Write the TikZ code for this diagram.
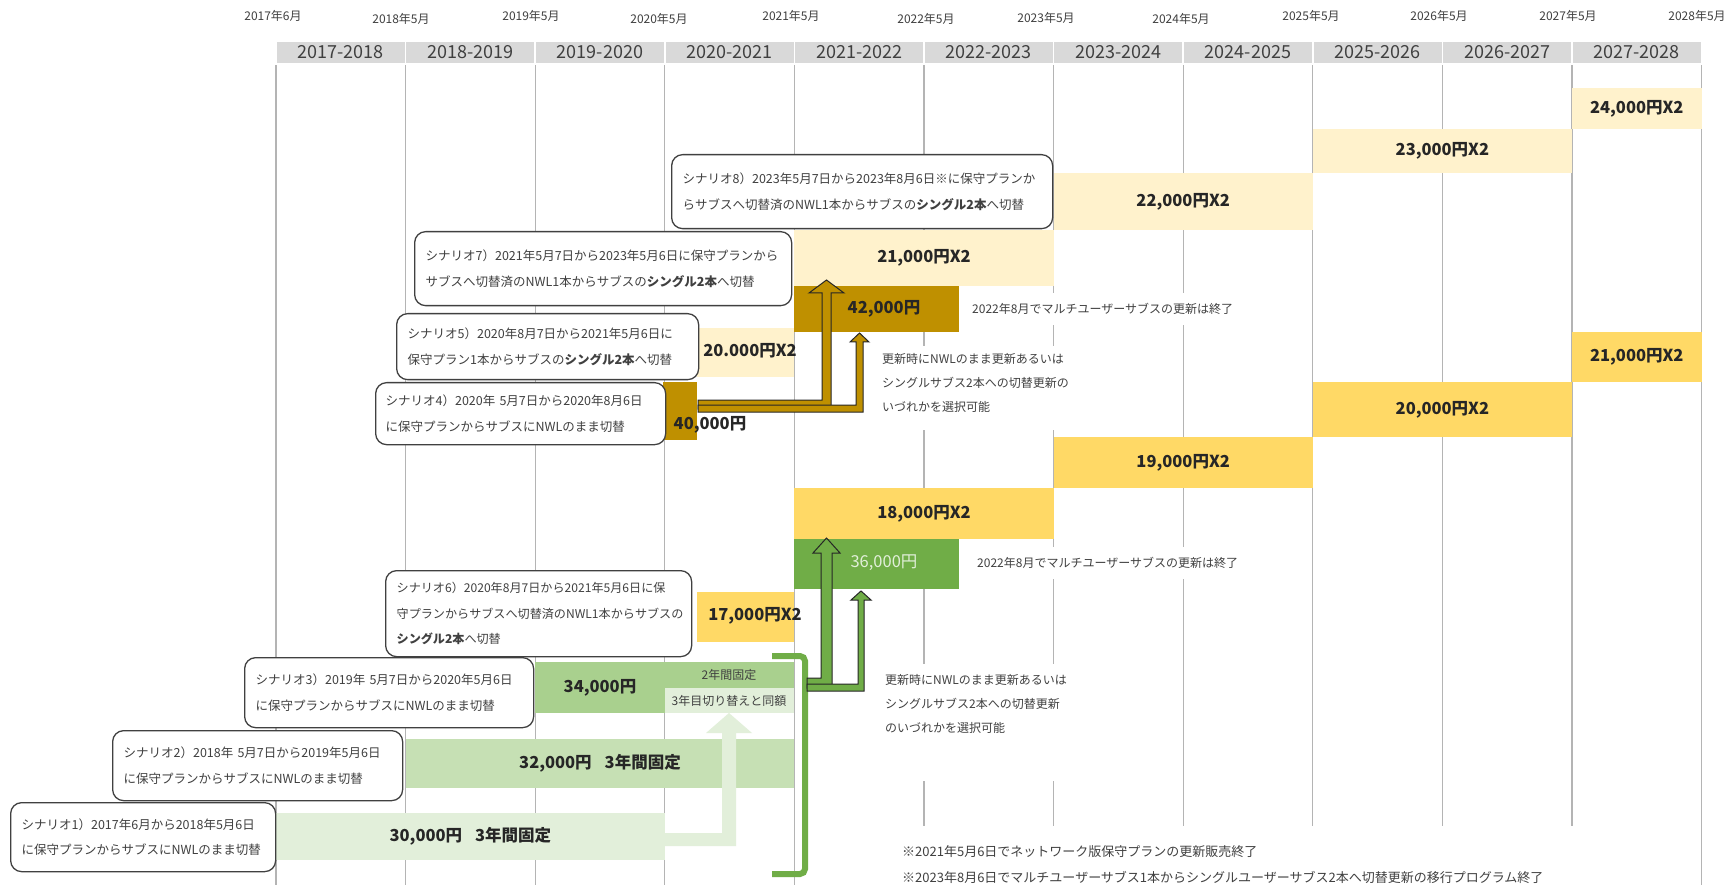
\documentclass[tikz,border=0pt]{standalone}
\usepackage{fontspec}
\setmainfont{Noto Sans CJK JP}
\definecolor{lyel}{HTML}{FFF2CC}
\definecolor{yel}{HTML}{FFD966}
\definecolor{gold}{HTML}{BF9000}
\definecolor{grn}{HTML}{70AD47}
\definecolor{grnm}{HTML}{A9D08E}
\definecolor{grnl}{HTML}{C6E0B4}
\definecolor{grnp}{HTML}{E2EFDA}
\definecolor{hdr}{HTML}{D9D9D9}
\definecolor{txt}{HTML}{404040}
\definecolor{gridc}{HTML}{B4B4B4}
\definecolor{dark}{HTML}{262626}
\begin{document}
\begin{tikzpicture}[x=1pt,y=-1pt,
  gridline/.style={draw=gridc,line width=1.3pt},
  hcell/.style={anchor=north west,fill=hdr,draw=white,line width=1.5pt,minimum width=129.6pt,minimum height=23pt,inner sep=0pt,outer sep=0pt,text=txt,font=\fontsize{18}{20}\selectfont},
  ylab/.style={inner sep=0pt,text=txt,font=\fontsize{12}{14}\selectfont},
  bar/.style={anchor=north west,inner sep=0pt,outer sep=0pt,draw=none,text=dark,font=\fontsize{16.5}{18}\selectfont\bfseries},
  lab/.style={inner sep=0pt,text=dark,font=\fontsize{16.5}{18}\selectfont\bfseries},
  small/.style={inner sep=0pt,text=txt,font=\fontsize{12}{14}\selectfont},
  note/.style={anchor=west,fill=white,inner xsep=3pt,inner ysep=10pt,align=left,text=txt,font=\fontsize{12}{24}\selectfont},
  sbox/.style={anchor=north west,draw=txt,line width=1.3pt,rounded corners=11pt,fill=white,inner xsep=11pt,inner ysep=0pt,align=left,text=txt,font=\fontsize{12.5}{25.5}\selectfont},
  goldarrow/.style={fill=gold,draw=dark,line width=1pt,line join=miter},
  grnarrow/.style={fill=grn,draw=dark,line width=1pt,line join=miter},
  palearrow/.style={fill=grnp,draw=none}
]
\useasboundingbox (0,0) rectangle (1725,885);
\fill[white] (0,0) rectangle (1725,885);
% grid lines
\foreach \i in {0,...,11} \draw[gridline] ({276+129.6*\i},64) -- ({276+129.6*\i},885);
% header
\foreach \i/\lab in {0/2017-2018,1/2018-2019,2/2019-2020,3/2020-2021,4/2021-2022,5/2022-2023,6/2023-2024,7/2024-2025,8/2025-2026,9/2026-2027,10/2027-2028}
  \node[hcell] (h\i) at ({276+129.6*\i},41) {\lab};
% year labels
\node[ylab] (y0) at (273,16) {2017年6月};
\node[ylab] (y1) at (401,19) {2018年5月};
\node[ylab] (y2) at (531,16) {2019年5月};
\node[ylab] (y3) at (659,19) {2020年5月};
\node[ylab] (y4) at (791,16) {2021年5月};
\node[ylab] (y5) at (926,19) {2022年5月};
\node[ylab] (y6) at (1046,18) {2023年5月};
\node[ylab] (y7) at (1181,19) {2024年5月};
\node[ylab] (y8) at (1311,16) {2025年5月};
\node[ylab] (y9) at (1439,16) {2026年5月};
\node[ylab] (y10) at (1568,16) {2027年5月};
\node[ylab] (y11) at (1697,16) {2028年5月};
% bars
\node[bar,fill=lyel,minimum width=129.6pt,minimum height=41pt] (b24) at (1572,88) {24,000円X2};
\node[bar,fill=lyel,minimum width=259.2pt,minimum height=44pt] (b23) at (1312.8,129) {23,000円X2};
\node[bar,fill=lyel,minimum width=259.2pt,minimum height=57pt] (b22) at (1053.6,173) {22,000円X2};
\node[bar,fill=lyel,minimum width=259.2pt,minimum height=56pt] (b21) at (794.4,230) {21,000円X2};
\node[bar,fill=gold,minimum width=164.6pt,minimum height=46pt] (b42) at (794.4,286) {};
\node[lab] (l42) at (884,309) {42,000円};
\node[bar,fill=lyel,minimum width=97.4pt,minimum height=49pt] (b20d) at (697,328) {};
\node[lab] (l20d) at (750,351) {20.000円X2};
\node[bar,fill=yel,minimum width=129.6pt,minimum height=50pt] (b21r) at (1572,332) {21,000円X2};
\node[bar,fill=gold,minimum width=34pt,minimum height=58pt] (b40) at (663,382) {};
\node[lab] (l40) at (710,425) {40,000円};
\node[bar,fill=yel,minimum width=259.2pt,minimum height=55pt] (b20) at (1312.8,382) {20,000円X2};
\node[bar,fill=yel,minimum width=259.2pt,minimum height=51pt] (b19) at (1053.6,437) {19,000円X2};
\node[bar,fill=yel,minimum width=259.2pt,minimum height=51pt] (b18) at (794.4,488) {18,000円X2};
\node[bar,fill=grn,minimum width=164.6pt,minimum height=50pt] (b36) at (794.4,539) {};
\node[lab,font=\fontsize{16.5}{18}\selectfont,text=grnp] (l36) at (884,563) {36,000円};
\node[bar,fill=yel,minimum width=97.4pt,minimum height=50pt] (b17) at (697,592) {};
\node[lab] (l17) at (755,616) {17,000円X2};
\node[bar,fill=grnm,minimum width=259.2pt,minimum height=51pt] (b34) at (535.2,662) {};
\node[bar,fill=grnp,minimum width=129.6pt,minimum height=25pt] (b34s) at (664.8,688) {};
\node[lab] (l34) at (600,688) {34,000円};
\node[small] (l2y) at (729,675) {2年間固定};
\node[small] (l3y) at (729,701) {3年目切り替えと同額};
\node[bar,fill=grnl,minimum width=388.8pt,minimum height=49pt] (b32) at (405.6,739) {32,000円\hspace{13pt}3年間固定};
\node[bar,fill=grnp,minimum width=388.8pt,minimum height=47pt] (b30) at (276,813) {30,000円\hspace{13pt}3年間固定};
% notes
\fill[white] (878,346) rectangle (1070,430);
\fill[white] (878,664) rectangle (1070,781);
\fill[white] (896,826) rectangle (1580,885);
\node[note] (n1) at (969,309) {2022年8月でマルチユーザーサブスの更新は終了};
\node[note] (n2) at (974,563) {2022年8月でマルチユーザーサブスの更新は終了};
\node[note,inner ysep=0pt] (n3) at (879,383) {更新時にNWLのまま更新あるいは\\シングルサブス2本への切替更新の\\いづれかを選択可能};
\node[note,inner ysep=0pt] (n4) at (882,704) {更新時にNWLのまま更新あるいは\\シングルサブス2本への切替更新\\のいづれかを選択可能};
\node[note,inner ysep=0pt,font=\fontsize{13}{26}\selectfont] (n5) at (899,865) {※2021年5月6日でネットワーク版保守プランの更新販売終了\\※2023年8月6日でマルチユーザーサブス1本からシングルユーザーサブス2本へ切替更新の移行プログラム終了};
% pale arrow
\fill[palearrow] (660,833) -- (722,833) -- (722,733) -- (706,733) -- (729,713) -- (752,733) -- (736,733) -- (736,846) -- (660,846) -- cycle;
% bracket
\draw[grn,line width=6pt,rounded corners=5pt] (772,656) -- (805,656) -- (805,874) -- (772,874);
% green arrows
\draw[grnarrow] (807,678) -- (821,678) -- (821,553) -- (813,553) -- (826.5,538) -- (840,553) -- (832,553) -- (832,688) -- (807,688) -- cycle;
\draw[grnarrow] (807,684) -- (858,684) -- (858,600) -- (851,600) -- (861,591) -- (871,600) -- (864,600) -- (864,691) -- (807,691) -- cycle;
% gold arrows
\draw[goldarrow] (698,400) -- (822,400) -- (822,293) -- (809,293) -- (826.5,280) -- (844,293) -- (831,293) -- (831,409) -- (698,409) -- cycle;
\draw[goldarrow] (698,405) -- (856,405) -- (856,342) -- (850,342) -- (859.5,333) -- (869,342) -- (863,342) -- (863,412) -- (698,412) -- cycle;
% scenario boxes
\node[sbox,minimum width=381pt,minimum height=74pt,text width=359pt] (s8) at (671,154) {シナリオ8）2023年5月7日から2023年8月6日※に保守プランか\\らサブスへ切替済のNWL1本からサブスの{\bfseries シングル2本}へ切替};
\node[sbox,minimum width=377pt,minimum height=74pt,text width=355pt] (s7) at (414,231) {シナリオ7）2021年5月7日から2023年5月6日に保守プランから\\サブスへ切替済のNWL1本からサブスの{\bfseries シングル2本}へ切替};
\node[sbox,minimum width=302pt,minimum height=66pt,text width=280pt] (s5) at (396,313) {シナリオ5）2020年8月7日から2021年5月6日に\\保守プラン1本からサブスの{\bfseries シングル2本}へ切替};
\node[sbox,minimum width=290pt,minimum height=62pt,inner xsep=10pt,text width=270pt] (s4) at (375,382) {シナリオ4）2020年 5月7日から2020年8月6日\\に保守プランからサブスにNWLのまま切替};
\node[sbox,minimum width=306pt,minimum height=86pt,text width=284pt,font=\fontsize{12.1}{25.5}\selectfont] (s6) at (385,570) {シナリオ6）2020年8月7日から2021年5月6日に保\\守プランからサブスへ切替済のNWL1本からサブスの\\{\bfseries シングル2本}へ切替};
\node[sbox,minimum width=289pt,minimum height=70pt,text width=267pt] (s3) at (244,657) {シナリオ3）2019年 5月7日から2020年5月6日\\に保守プランからサブスにNWLのまま切替};
\node[sbox,minimum width=290pt,minimum height=70pt,text width=268pt] (s2) at (112,730) {シナリオ2）2018年 5月7日から2019年5月6日\\に保守プランからサブスにNWLのまま切替};
\node[sbox,minimum width=265pt,minimum height=69pt,text width=243pt] (s1) at (10,802) {シナリオ1）2017年6月から2018年5月6日\\に保守プランからサブスにNWLのまま切替};
\end{tikzpicture}
\end{document}
